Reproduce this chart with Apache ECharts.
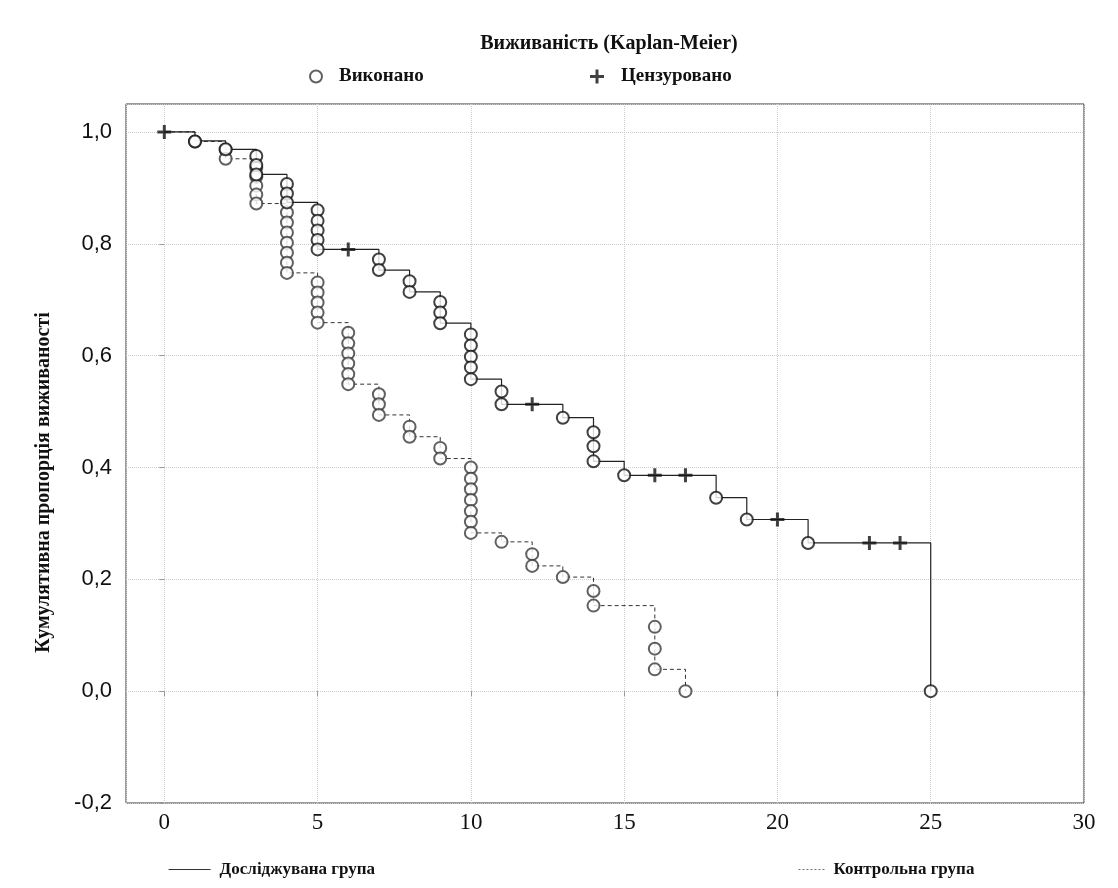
<!DOCTYPE html>
<html>
<head>
<meta charset="utf-8">
<script src="https://cdn.jsdelivr.net/npm/echarts@6/dist/echarts.min.js"></script>
<style>
  html, body { margin: 0; padding: 0; background: #fff; }
  #main { width: 1118px; height: 888px; }
</style>
</head>
<body>
<div id="main"></div>
<script>
// ступінчасті криві Каплана-Мейєра (час, частка)
var studyTimes = [0, 1, 2, 3, 4, 5, 7, 8, 9, 10, 11, 13, 14, 15, 18, 19, 21, 25];
var studySurv = [1, 0.984, 0.969, 0.924, 0.874, 0.790, 0.753, 0.714, 0.658, 0.558, 0.513, 0.489, 0.411, 0.386, 0.346, 0.307, 0.265, 0];
var controlTimes = [0, 1, 2, 3, 4, 5, 6, 7, 8, 9, 10, 11, 12, 13, 14, 16, 17];
var controlSurv = [1, 0.983, 0.952, 0.872, 0.748, 0.659, 0.549, 0.494, 0.455, 0.416, 0.283, 0.267, 0.224, 0.204, 0.153, 0.039, 0];

// виконано (кружки)
var studyEventT = [1, 2, 3, 3, 3, 4, 4, 4, 5, 5, 5, 5, 5, 7, 7, 8, 8, 9, 9, 9, 10, 10, 10, 10, 10, 11, 11, 13, 14, 14, 14, 15, 18, 19, 21, 25];
var studyEventS = [0.983, 0.969, 0.957, 0.941, 0.924, 0.907, 0.890, 0.874, 0.860, 0.841, 0.824, 0.807, 0.790, 0.772, 0.753, 0.733, 0.714, 0.696, 0.677, 0.658, 0.638, 0.618, 0.598, 0.579, 0.558, 0.536, 0.513, 0.489, 0.463, 0.438, 0.411, 0.386, 0.346, 0.307, 0.265, 0];
var controlEventT = [1, 2, 2, 3, 3, 3, 3, 3, 4, 4, 4, 4, 4, 4, 4, 5, 5, 5, 5, 5, 6, 6, 6, 6, 6, 6, 7, 7, 7, 8, 8, 9, 9, 10, 10, 10, 10, 10, 10, 10, 11, 12, 12, 13, 14, 14, 16, 16, 16, 17];
var controlEventS = [0.983, 0.968, 0.952, 0.936, 0.920, 0.904, 0.888, 0.872, 0.856, 0.838, 0.820, 0.802, 0.784, 0.766, 0.748, 0.731, 0.713, 0.695, 0.677, 0.659, 0.641, 0.622, 0.604, 0.586, 0.567, 0.549, 0.531, 0.513, 0.494, 0.473, 0.455, 0.435, 0.416, 0.400, 0.380, 0.361, 0.342, 0.322, 0.303, 0.283, 0.267, 0.245, 0.224, 0.204, 0.179, 0.153, 0.115, 0.076, 0.039, 0];

// цензуровано (хрестики)
var censorT = [0, 6, 12, 16, 17, 20, 23, 24];
var censorS = [1, 0.790, 0.513, 0.386, 0.386, 0.307, 0.265, 0.265];

function pairs(t, s) {
  return t.map(function (v, i) { return [v, s[i]]; });
}

var plusPath = "path://M5.5,0h3v5.5h5.5v3h-5.5v5.5h-3v-5.5h-5.5v-3h5.5z";
function serifBold(size) {
  return { fontFamily: "Liberation Serif", fontWeight: "bold", fontSize: size, color: "#111" };
}

var myChart = echarts.init(document.getElementById("main"));

var option = {
  backgroundColor: "#fff",
  animation: false,
  title: {
    text: "Виживаність (Kaplan-Meier)",
    left: 604,
    top: 29,
    textAlign: "center",
    textStyle: serifBold(20)
  },
  legend: [
    {
      data: ["Виконано"],
      left: 304, top: 62,
      itemWidth: 12, itemHeight: 12,
      textStyle: Object.assign({ padding: [0, 0, 0, 12] }, serifBold(19))
    },
    {
      data: ["Цензуровано"],
      left: 585, top: 62,
      itemWidth: 14, itemHeight: 14,
      textStyle: Object.assign({ padding: [0, 0, 0, 12] }, serifBold(19))
    },
    {
      data: ["Досліджувана група"],
      left: 163, top: 856,
      itemWidth: 42, itemHeight: 12,
      itemStyle: { color: "transparent", borderColor: "transparent" },
      lineStyle: { color: "#333", width: 1.2 },
      textStyle: Object.assign({ padding: [0, 0, 0, 4] }, serifBold(17))
    },
    {
      data: ["Контрольна група"],
      left: 793, top: 856,
      itemWidth: 28, itemHeight: 12,
      itemStyle: { color: "transparent", borderColor: "transparent" },
      lineStyle: { color: "#777", width: 1, type: [2, 2] },
      textStyle: Object.assign({ padding: [0, 0, 0, 2] }, serifBold(17))
    }
  ],
  grid: {
    left: 126,
    right: 34,
    top: 104,
    bottom: 85,
    show: true,
    borderColor: "#333",
    borderWidth: 1
  },
  xAxis: {
    type: "value",
    min: -1.25,
    max: 30,
    splitNumber: 6,
    axisLine: { show: false },
    axisTick: { show: true, length: 5, lineStyle: { color: "#999" } },
    axisLabel: {
      showMinLabel: false,
      margin: 8,
      fontFamily: "Liberation Sans Narrow",
      fontSize: 23,
      color: "#111"
    },
    splitLine: { show: true, lineStyle: { color: "#ccc", type: "dotted", width: 1 } }
  },
  yAxis: {
    type: "value",
    min: -0.2,
    max: 1.05,
    interval: 0.2,
    name: "Кумулятивна пропорція виживаності",
    nameLocation: "middle",
    nameRotate: 90,
    nameGap: 72,
    nameTextStyle: Object.assign({ padding: [0, 58, 0, 0] }, serifBold(20)),
    axisLine: { show: false },
    axisTick: { show: true, length: 5, lineStyle: { color: "#999" } },
    axisLabel: {
      showMaxLabel: false,
      margin: 14,
      fontFamily: "Liberation Sans",
      fontSize: 22,
      color: "#111",
      formatter: function (v) {
        if (v > 1.01) return "";
        return v.toFixed(1).replace(".", ",");
      }
    },
    splitLine: { show: true, lineStyle: { color: "#ccc", type: "dotted", width: 1 } }
  },
  series: [
    {
      name: "Контрольна група",
      type: "line",
      step: "end",
      symbol: "none",
      data: pairs(controlTimes, controlSurv),
      lineStyle: { color: "#333", width: 1, type: [4, 3] },
      itemStyle: { color: "#555" },
      z: 2
    },
    {
      name: "Досліджувана група",
      type: "line",
      step: "end",
      symbol: "none",
      data: pairs(studyTimes, studySurv),
      lineStyle: { color: "#222", width: 1.2 },
      itemStyle: { color: "#333" },
      z: 3
    },
    {
      name: "Виконано",
      type: "scatter",
      symbol: "circle",
      symbolSize: 12,
      data: pairs(controlEventT, controlEventS),
      itemStyle: { color: "#fff", borderColor: "#3a3a3a", borderWidth: 2 },
      z: 4
    },
    {
      name: "Виконано",
      type: "scatter",
      symbol: "circle",
      symbolSize: 12,
      data: pairs(studyEventT, studyEventS),
      itemStyle: { color: "#fff", borderColor: "#111", borderWidth: 2 },
      z: 5
    },
    {
      name: "Цензуровано",
      type: "scatter",
      symbol: plusPath,
      symbolSize: 14,
      data: pairs(censorT, censorS),
      itemStyle: { color: "#111" },
      z: 6
    }
  ]
};

myChart.setOption(option);
</script>
</body>
</html>
